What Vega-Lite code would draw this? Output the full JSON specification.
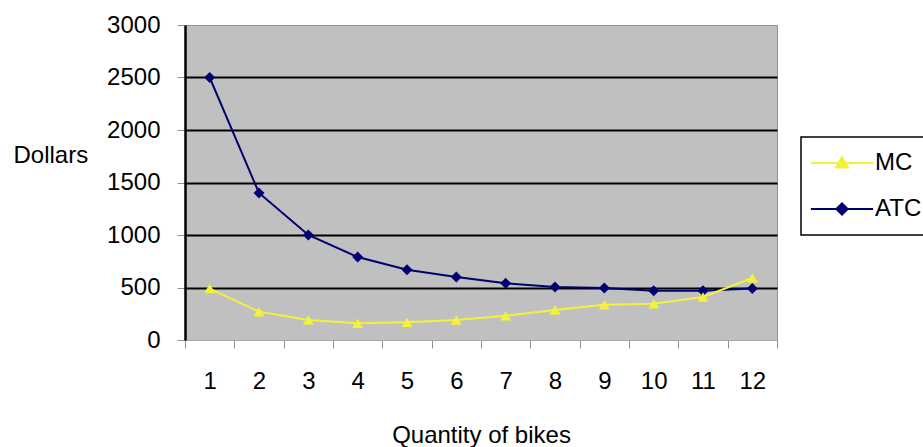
{
  "$schema": "https://vega.github.io/schema/vega-lite/v6.json",
  "width": 592,
  "height": 315,
  "autosize": {"type": "none"},
  "padding": {"left": 185, "top": 25, "right": 146, "bottom": 107},
  "background": "white",
  "config": {
    "view": {"fill": "#c0c0c0", "stroke": "#909090", "strokeWidth": 1},
    "font": "Liberation Sans"
  },
  "data": {
    "values": [
      {"q": 1, "series": "ATC", "cost": 2500},
      {"q": 2, "series": "ATC", "cost": 1400},
      {"q": 3, "series": "ATC", "cost": 1000},
      {"q": 4, "series": "ATC", "cost": 790},
      {"q": 5, "series": "ATC", "cost": 670},
      {"q": 6, "series": "ATC", "cost": 600},
      {"q": 7, "series": "ATC", "cost": 540},
      {"q": 8, "series": "ATC", "cost": 505},
      {"q": 9, "series": "ATC", "cost": 495},
      {"q": 10, "series": "ATC", "cost": 470},
      {"q": 11, "series": "ATC", "cost": 470},
      {"q": 12, "series": "ATC", "cost": 490},
      {"q": 1, "series": "MC", "cost": 490},
      {"q": 2, "series": "MC", "cost": 270},
      {"q": 3, "series": "MC", "cost": 190},
      {"q": 4, "series": "MC", "cost": 160},
      {"q": 5, "series": "MC", "cost": 170},
      {"q": 6, "series": "MC", "cost": 190},
      {"q": 7, "series": "MC", "cost": 230},
      {"q": 8, "series": "MC", "cost": 285},
      {"q": 9, "series": "MC", "cost": 335},
      {"q": 10, "series": "MC", "cost": 345},
      {"q": 11, "series": "MC", "cost": 410},
      {"q": 12, "series": "MC", "cost": 590}
    ]
  },
  "encoding": {
    "x": {
      "field": "q",
      "type": "ordinal",
      "bandPosition": 0.5,
      "scale": {"type": "band", "paddingInner": 0, "paddingOuter": 0},
      "axis": {
        "title": "Quantity of bikes",
        "labelAngle": 0,
        "labelFontSize": 24,
        "labelColor": "black",
        "labelFont": "Liberation Sans",
        "tickBand": "extent",
        "tickColor": "#909090",
        "tickSize": 8,
        "domainColor": "#a8a8a8",
        "labelPadding": 21,
        "titleFontSize": 24,
        "titleFontWeight": "normal",
        "titleColor": "black",
        "titleFont": "Liberation Sans",
        "titleY": 102,
        "titleBaseline": "alphabetic",
        "grid": false
      }
    },
    "y": {
      "field": "cost",
      "type": "quantitative",
      "scale": {"domain": [0, 3000], "nice": false},
      "axis": {
        "title": "Dollars",
        "titleAngle": 0,
        "titleAlign": "left",
        "titleX": -172,
        "titleY": 130,
        "titleBaseline": "middle",
        "titleFontSize": 24,
        "titleFontWeight": "normal",
        "titleColor": "black",
        "titleFont": "Liberation Sans",
        "values": [0, 500, 1000, 1500, 2000, 2500, 3000],
        "format": "d",
        "labelFontSize": 24,
        "labelColor": "black",
        "labelFont": "Liberation Sans",
        "labelPadding": 17,
        "tickSize": 8,
        "tickColor": "#909090",
        "domainColor": "black",
        "domainWidth": 2.5,
        "grid": true,
        "gridColor": {"condition": {"test": "datum.value === 0 || datum.value === 3000", "value": "transparent"}, "value": "black"},
        "gridWidth": 2,
        "gridOpacity": 1
      }
    },
    "color": {
      "field": "series",
      "type": "nominal",
      "scale": {"domain": ["MC", "ATC"], "range": ["#f2f23c", "#000070"]},
      "legend": {
        "orient": "none",
        "legendX": 616,
        "legendY": 112,
        "title": null,
        "padding": 14,
        "strokeColor": "black",
        "fillColor": "white",
        "labelFontSize": 24,
        "labelFont": "Liberation Sans",
        "labelColor": "black",
        "symbolSize": 200,
        "symbolOffset": 15,
        "labelOffset": 21,
        "rowPadding": 22,
        "symbolStrokeWidth": 2,
        "encode": {
          "legend": {"update": {"strokeWidth": {"value": 1.5}}},
          "symbols": {
            "update": {
              "shape": {"signal": "datum.value === 'ATC' ? 'M-4.4,0H4.4M0,-0.8L0.8,0L0,0.8L-0.8,0Z' : 'M-4.4,0H4.4M0,-0.85L0.85,0.65L-0.85,0.65Z'"},
              "stroke": {"signal": "scale('color', datum.value)"},
              "fill": {"signal": "scale('color', datum.value)"},
              "strokeWidth": {"value": 2},
              "opacity": {"value": 1}
            }
          }
        }
      }
    }
  },
  "layer": [
    {
      "mark": {"type": "line", "strokeWidth": 2}
    },
    {
      "mark": {"type": "point", "filled": true, "size": 121, "opacity": 1},
      "encoding": {
        "shape": {
          "condition": {"test": "datum.series === 'ATC'", "value": "diamond"},
          "value": "triangle-up"
        }
      }
    }
  ]
}
